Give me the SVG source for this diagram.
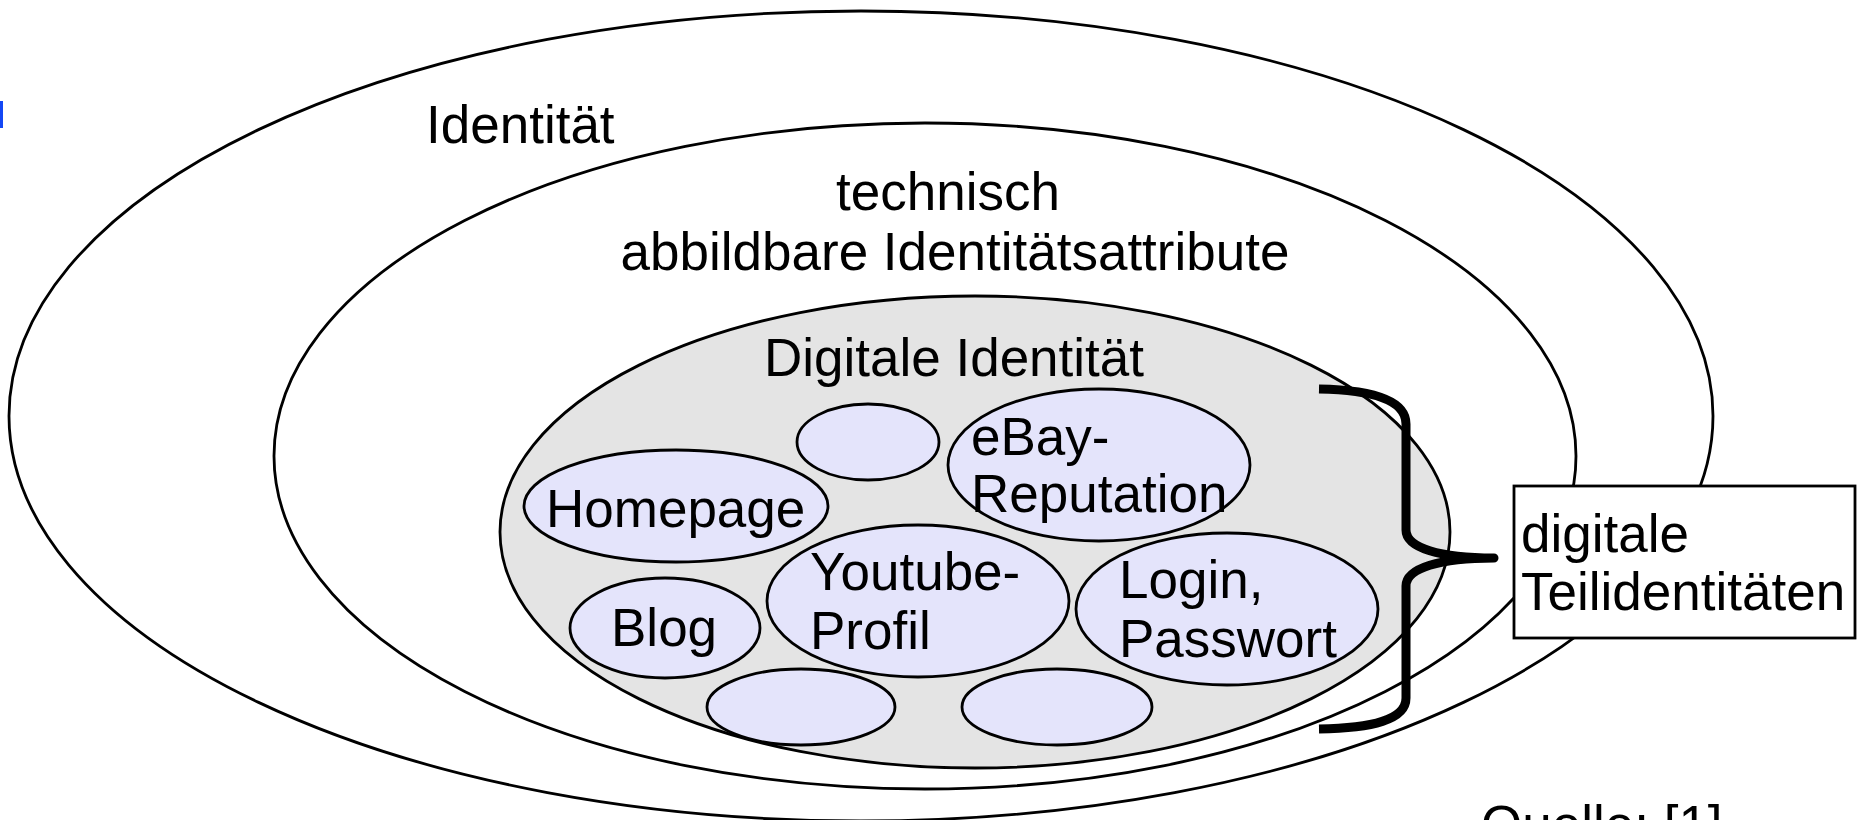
<svg xmlns="http://www.w3.org/2000/svg" width="1864" height="820" viewBox="0 0 1864 820">
<style>
.ln{stroke:#000;stroke-width:2.8;}
.sub{fill:#e4e4fb;stroke:#000;stroke-width:2.8;}
text{font-family:"Liberation Sans",Arial,sans-serif;font-size:53px;fill:#000;}
.c{text-anchor:middle;}
</style>
<rect width="1864" height="820" fill="#fff"/>
<rect x="0" y="101" width="3" height="27" fill="#1447f5"/>
<g id="identitaet">
<ellipse class="ln" cx="861" cy="416" rx="852" ry="405" fill="#fff"/>
<text x="426" y="143">Identität</text>
</g>
<g id="technisch">
<ellipse class="ln" cx="925" cy="456" rx="651" ry="333" fill="#fff"/>
<text class="c" x="948" y="210">technisch</text>
<text class="c" x="955" y="270">abbildbare Identitätsattribute</text>
</g>
<g id="digitale-identitaet">
<ellipse class="ln" cx="975" cy="532" rx="475" ry="236" fill="#e4e4e4"/>
<text class="c" x="954" y="376">Digitale Identität</text>
</g>
<g id="leer-oben"><ellipse class="sub" cx="868" cy="442" rx="71" ry="38"/></g>
<g id="ebay">
<ellipse class="sub" cx="1099" cy="465" rx="151" ry="76"/>
<text x="971" y="455">eBay-</text>
<text x="971" y="512">Reputation</text>
</g>
<g id="homepage">
<ellipse class="sub" cx="676" cy="506" rx="152" ry="56"/>
<text x="546" y="527">Homepage</text>
</g>
<g id="youtube">
<ellipse class="sub" cx="918" cy="601" rx="151" ry="76"/>
<text x="810" y="590">Youtube-</text>
<text x="810" y="649">Profil</text>
</g>
<g id="login">
<ellipse class="sub" cx="1227" cy="609" rx="151" ry="76"/>
<text x="1119" y="598">Login,</text>
<text x="1119" y="657">Passwort</text>
</g>
<g id="blog">
<ellipse class="sub" cx="665" cy="628" rx="95" ry="50"/>
<text x="611" y="646">Blog</text>
</g>
<g id="leer-unten-links"><ellipse class="sub" cx="801" cy="707" rx="94" ry="38"/></g>
<g id="leer-unten-rechts"><ellipse class="sub" cx="1057" cy="707" rx="95" ry="38"/></g>
<g id="connectors">
<path d="M1319,389 C1372,390 1406,400 1406,424 L1406,530 C1406,548 1440,558 1494,558 C1440,558 1406,568 1406,586 L1406,698 C1406,720 1372,728 1319,729" fill="none" stroke="#000" stroke-width="9" stroke-linejoin="round"/>
</g>
<g id="teilidentitaeten">
<rect x="1514" y="486" width="341" height="152" fill="#fff" stroke="#000" stroke-width="2.8"/>
<text x="1521" y="552">digitale</text>
<text x="1521" y="610">Teilidentitäten</text>
</g>
<g id="quelle">
<text x="1481" y="843">Quelle: [1]</text>
</g>
</svg>
